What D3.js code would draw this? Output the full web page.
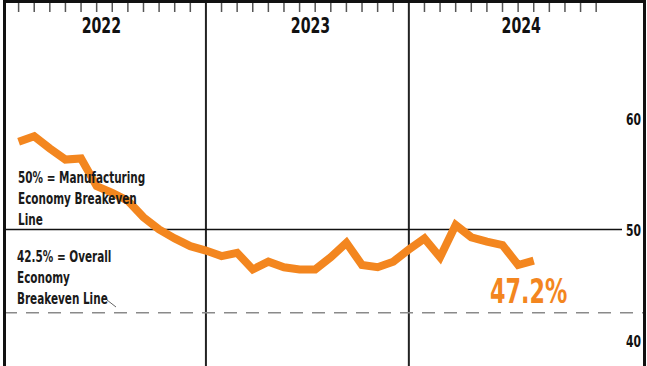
<!DOCTYPE html>
<html>
<head>
<meta charset="utf-8">
<style>
  body { margin: 0; background: #fff; }
  svg text { font-family: "Liberation Sans Narrow", "DejaVu Sans Condensed", "Arial Narrow", sans-serif; font-weight: bold; }
</style>
</head>
<body>
<div id="chart"></div>

<script src="https://d3js.org/d3.v7.min.js"></script>
<script>
// monthly index values, Jan 2022 -> Oct 2024
var values = [57.9, 58.4, 57.3, 56.3, 56.4, 53.9, 53.3, 52.6, 51.1, 50.0, 49.2, 48.5,
              48.1, 47.6, 47.9, 46.4, 47.1, 46.6, 46.4, 46.4, 47.5, 48.8, 46.8, 46.6,
              47.1, 48.2, 49.2, 47.5, 50.4, 49.3, 48.9, 48.6, 46.8, 47.2];
var years = ["2022", "2023", "2024"];
var yearLabelAt = [6.3, 19.7, 33.2];   // in month units
var yearBreaks = [13, 26];
var monthTicks = d3.range(1, 13).concat(d3.range(14, 26), d3.range(27, 39));
var yTicks = [40, 50, 60];
var mfgLine = 50, overallLine = 42.5;
var lastLabel = "47.2%";
var mfgNote = ["50% = Manufacturing", "Economy Breakeven", "Line"];
var overallNote = ["42.5% = Overall", "Economy", "Breakeven Line"];

var width = 647, height = 366;
var orange = "#f3861f";
var squeeze = 0.75; // no narrow font installed, so condense the text by hand

var svg = d3.select("#chart")
  .append("svg")
    .attr("width", width)
    .attr("height", height);

var x = d3.scaleLinear()
  .domain([0, 41])
  .range([3, 643]);

var y = d3.scaleLinear()
  .domain([40, 60])
  .range([340.5, 118.5]);

// put a condensed text at (tx, ty)
function narrowText(sel, tx, ty) {
  return sel
    .attr("transform", function(d, i){
      return "translate(" + tx(d, i) + "," + ty(d, i) + ") scale(" + squeeze + ",1)";
    });
}

// year dividers
svg.selectAll(".yearBreak")
  .data(yearBreaks)
  .enter()
  .append("line")
    .attr("x1", function(d){ return x(d); })
    .attr("x2", function(d){ return x(d); })
    .attr("y1", 0)
    .attr("y2", height)
    .attr("stroke", "#222")
    .attr("stroke-width", 2);

// month ticks along the top
svg.selectAll(".monthTick")
  .data(monthTicks)
  .enter()
  .append("line")
    .attr("x1", function(d){ return x(d); })
    .attr("x2", function(d){ return x(d); })
    .attr("y1", 2)
    .attr("y2", 12)
    .attr("stroke", "#555")
    .attr("stroke-width", 1.5);

// year labels
svg.selectAll(".year")
  .data(years)
  .enter()
  .append("text")
    .call(narrowText, function(d, i){ return x(yearLabelAt[i]); }, function(){ return 33; })
    .attr("text-anchor", "middle")
    .attr("font-size", 21)
    .attr("fill", "#111")
    .text(function(d){ return d; });

// 42.5 dashed line
svg.append("line")
  .attr("x1", 4).attr("x2", 643)
  .attr("y1", y(overallLine)).attr("y2", y(overallLine))
  .attr("stroke", "#8a8a8a")
  .attr("stroke-width", 1.5)
  .attr("stroke-dasharray", "13,9");

// 50 line
svg.append("line")
  .attr("x1", 4).attr("x2", 622)
  .attr("y1", y(mfgLine)).attr("y2", y(mfgLine))
  .attr("stroke", "#111")
  .attr("stroke-width", 1.5);

// y labels on the right
svg.selectAll(".yLabel")
  .data(yTicks)
  .enter()
  .append("text")
    .call(narrowText, function(){ return 641; }, function(d){ return y(d) + 6; })
    .attr("text-anchor", "end")
    .attr("font-size", 16)
    .attr("fill", "#111")
    .text(function(d){ return d; });

// the index line
svg.append("path")
  .datum(values)
  .attr("fill", "none")
  .attr("stroke", orange)
  .attr("stroke-width", 8)
  .attr("stroke-linejoin", "miter")
  .attr("d", d3.line()
      .x(function(d, i){ return x(i + 1); })
      .y(function(d){ return y(d); })
  );

// last value label
svg.append("text")
  .datum(lastLabel)
  .call(narrowText, function(){ return 490; }, function(){ return 303; })
  .attr("font-size", 33)
  .attr("fill", orange)
  .text(lastLabel);

// notes
function note(lines, x0, y0) {
  svg.append("g").selectAll("text")
    .data(lines)
    .enter()
    .append("text")
      .call(narrowText, function(){ return x0; }, function(d, i){ return y0 + i * 21; })
      .attr("font-size", 15.5)
      .attr("fill", "#1a1a1a")
      .text(function(d){ return d; });
}
note(mfgNote, 18, 183);
note(overallNote, 17, 261.5);

// small leader next to "Breakeven Line"
svg.append("line")
  .attr("x1", 107).attr("y1", 300)
  .attr("x2", 116).attr("y2", 307)
  .attr("stroke", "#666")
  .attr("stroke-width", 1);

// frame (top, left, right)
svg.append("path")
  .attr("d", "M4.5," + height + "V1.5H644.5V" + height)
  .attr("fill", "none")
  .attr("stroke", "#111")
  .attr("stroke-width", 3);
</script>
</body>
</html>
